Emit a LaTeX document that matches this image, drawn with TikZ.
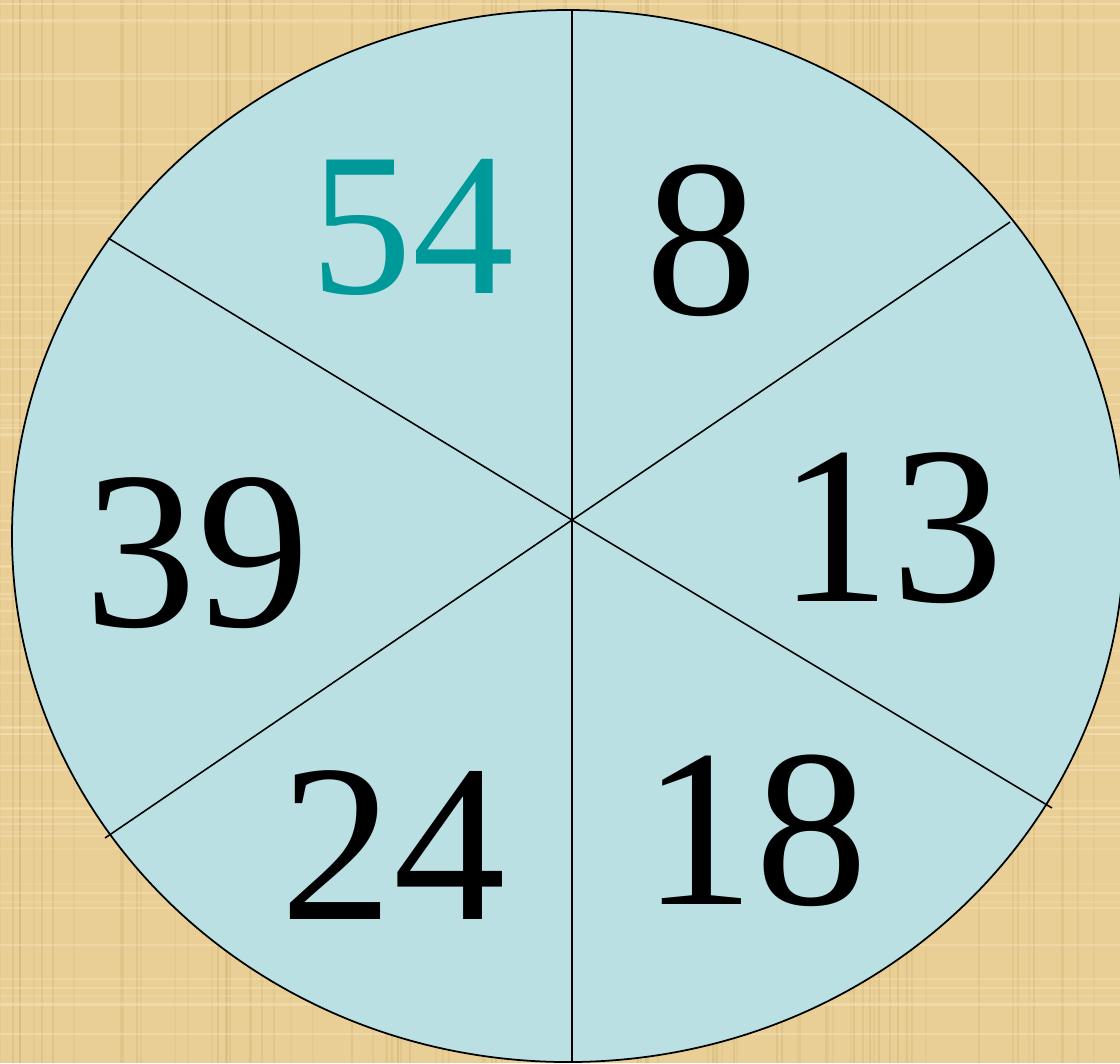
\documentclass[tikz,border=0pt]{standalone}
\usepackage{fontspec}
\setmainfont{Liberation Serif}
\usetikzlibrary{positioning}
\definecolor{parchment}{RGB}{233,207,150}
\definecolor{parchdark}{RGB}{205,175,115}
\definecolor{parchlight}{RGB}{247,228,185}
\definecolor{wheelblue}{RGB}{186,224,228}
\definecolor{numteal}{RGB}{0,153,153}

\begin{document}
\begin{tikzpicture}[x=0.1mm, y=-0.1mm,
    spoke/.style={draw, line width=0.45pt},
    num/.style={anchor=base, inner sep=0pt, font=\fontsize{64}{64}\selectfont},
    smallnum/.style={num, font=\fontsize{58}{58}\selectfont, text=numteal}]
    \useasboundingbox (0,0) rectangle (1120,1063);
    % Parchment background
    \fill[parchment] (0,0) rectangle (1120,1063);
    \pgfmathsetseed{7}
    \foreach \i in {1,...,90} {
        \pgfmathsetmacro{\xa}{random(0,1120)}
        \pgfmathsetmacro{\op}{0.15+0.25*rnd}
        \draw[parchdark, opacity=\op, line width=0.6pt] (\xa,0) -- (\xa,1063);
    }
    \foreach \i in {1,...,90} {
        \pgfmathsetmacro{\ya}{random(0,1063)}
        \pgfmathsetmacro{\op}{0.15+0.3*rnd}
        \draw[parchlight, opacity=\op, line width=0.8pt] (0,\ya) -- (1120,\ya);
    }
    % Wheel
    \draw[fill=wheelblue, line width=0.5pt] (568,536) ellipse [x radius=556, y radius=526];
    \coordinate (c) at (572,520);
    \coordinate (top) at (572,10);
    \coordinate (bot) at (572,1063);
    \coordinate (ul) at (108,238);
    \coordinate (lr) at (1052,808);
    \coordinate (ur) at (1010,222);
    \coordinate (ll) at (105,838);
    \draw[spoke] (top) -- (c) -- (bot);
    \draw[spoke] (ul) -- (c) -- (lr);
    \draw[spoke] (ur) -- (c) -- (ll);
    % Numbers
    \node[smallnum] (n54) at (412,293) {54};
    \node[num] (n8) at (702,314) {8};
    \node[num] (n13) at (891,601) {13};
    \node[num] (n18) at (755,904) {18};
    \node[num] (n24) at (393,919) {24};
    \node[num] (n39) at (197,626) {39};
\end{tikzpicture}
\end{document}
